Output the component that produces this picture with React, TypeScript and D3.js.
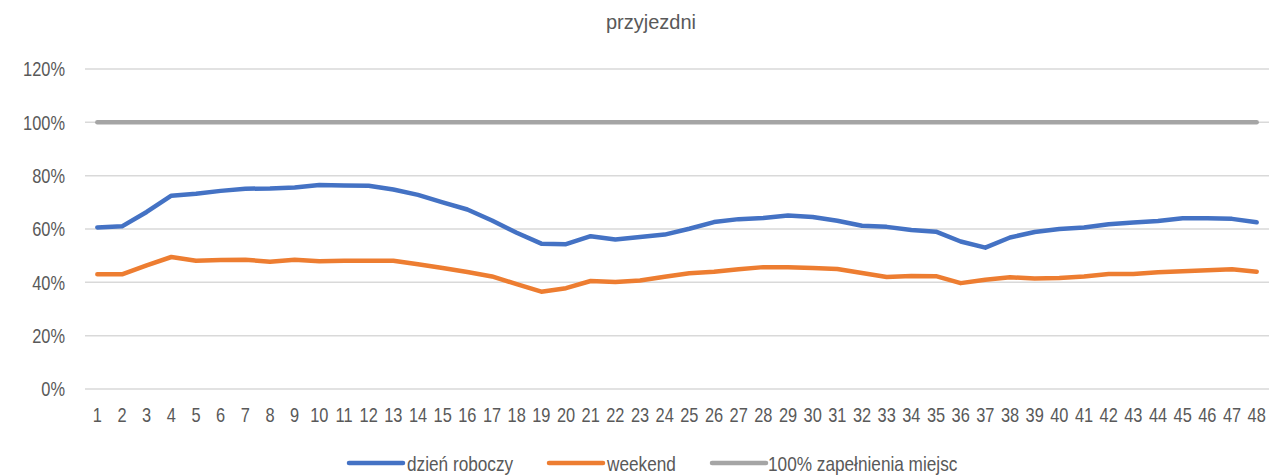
import * as d3 from 'd3'

const categories = Array.from({length: 48}, (_, i) => String(i + 1))

// dzień roboczy
const workday = [
  0.606, 0.61, 0.664, 0.725, 0.732, 0.743, 0.751, 0.752, 0.756, 0.765, 0.763, 0.762,
  0.748, 0.728, 0.70, 0.673, 0.632, 0.586, 0.545, 0.543, 0.573, 0.561, 0.57, 0.579,
  0.601, 0.626, 0.637, 0.641, 0.651, 0.645, 0.631, 0.612, 0.608, 0.596, 0.59, 0.553,
  0.53, 0.568, 0.589, 0.60, 0.606, 0.618, 0.624, 0.63, 0.64, 0.64, 0.638, 0.625,
]

// weekend
const weekend = [
  0.43, 0.43, 0.464, 0.495, 0.481, 0.484, 0.485, 0.477, 0.485, 0.479, 0.481, 0.481,
  0.481, 0.468, 0.454, 0.439, 0.422, 0.393, 0.365, 0.378, 0.405, 0.401, 0.407, 0.421,
  0.434, 0.44, 0.449, 0.457, 0.457, 0.454, 0.45, 0.435, 0.42, 0.424, 0.423, 0.397,
  0.41, 0.419, 0.414, 0.416, 0.422, 0.431, 0.431, 0.438, 0.442, 0.445, 0.449, 0.44,
]

// 100% zapełnienia miejsc
const full = [
  1, 1, 1, 1, 1, 1, 1, 1, 1, 1, 1, 1, 1, 1, 1, 1, 1, 1, 1, 1, 1, 1, 1, 1,
  1, 1, 1, 1, 1, 1, 1, 1, 1, 1, 1, 1, 1, 1, 1, 1, 1, 1, 1, 1, 1, 1, 1, 1,
]

const yTicks = [0, 0.2, 0.4, 0.6, 0.8, 1.0, 1.2]

const series = [
  {name: 'dzień roboczy', values: workday, color: '#4472C4'},
  {name: 'weekend', values: weekend, color: '#ED7D31'},
  {name: '100% zapełnienia miejsc', values: full, color: '#A5A5A5'},
]

const title = 'przyjezdni'

const font = '"Liberation Sans", Arial, sans-serif'
const textColor = '#595959'

// no narrow font installed, so squeeze the regular one horizontally
function NarrowText({x, y, size, anchor = 'start', children}:
                      { x: number, y: number, size: number, anchor?: string, children: any }) {
  return (
    <text transform={`translate(${x},${y}) scale(0.82,1)`} dy="0.36em" textAnchor={anchor}
          fontFamily={font} fontSize={size} fill={textColor}>
      {children}
    </text>
  )
}

export default function App() {
  const width = 1269
  const height = 476
  const marginLeft = 85
  const marginRight = 0
  const plotTop = 69
  const plotBottom = 389

  const x = d3.scaleBand(categories, [marginLeft, width - marginRight]).padding(0)
  const cx = (c: string) => (x(c) ?? 0) + x.bandwidth() / 2
  const y = d3.scaleLinear([0, 1.2], [plotBottom, plotTop])

  const line = d3.line<number>()
    .x((_, i) => cx(categories[i]))
    .y(d => y(d))

  // legend positions
  const legendItems = [
    {x: 349, textX: 407},
    {x: 549, textX: 607},
    {x: 712, textX: 768},
  ]
  const legendY = 463

  return (
    <svg width={width} height={height}
         style={{position: 'absolute', left: 0, top: 0, background: '#fff'}}>
      <text x={651} y={29} textAnchor="middle" fontFamily={font} fontSize={20} fill={textColor}>
        {title}
      </text>

      {yTicks.map(t => (
        <g key={t}>
          <line x1={marginLeft} x2={width - marginRight} y1={y(t)} y2={y(t)}
                stroke="#D9D9D9" strokeWidth={1.5}/>
          <NarrowText x={65} y={y(t)} size={20} anchor="end">
            {d3.format('.0%')(t)}
          </NarrowText>
        </g>
      ))}

      {categories.map(c => (
        <NarrowText key={c} x={cx(c)} y={415} size={20} anchor="middle">
          {c}
        </NarrowText>
      ))}

      {[series[2], series[0], series[1]].map(s => (
        <path key={s.name} d={line(s.values) ?? ''} fill="none" stroke={s.color}
              strokeWidth={4.5} strokeLinecap="round" strokeLinejoin="round"/>
      ))}

      {series.map((s, i) => (
        <g key={s.name}>
          <line x1={legendItems[i].x} x2={legendItems[i].x + 54} y1={legendY} y2={legendY}
                stroke={s.color} strokeWidth={4.5} strokeLinecap="round"/>
          <NarrowText x={legendItems[i].textX} y={legendY} size={21}>
            {s.name}
          </NarrowText>
        </g>
      ))}
    </svg>
  )
}
